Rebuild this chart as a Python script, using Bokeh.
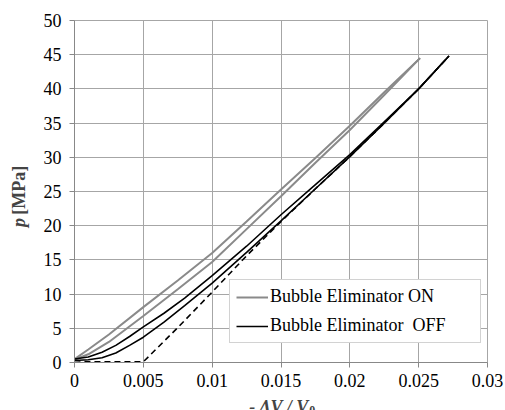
from bokeh.plotting import figure
from bokeh.models import (Range1d, FixedTicker, CustomJSTickFormatter, Legend,
                          LegendItem, Label)
from bokeh.embed import file_html
from bokeh.resources import INLINE
import math

# ---- data ----
x_ticks = [0, 0.005, 0.01, 0.015, 0.02, 0.025, 0.03]
y_ticks = [0, 5, 10, 15, 20, 25, 30, 35, 40, 45, 50]

on_x = [0, 0.001, 0.0025, 0.005, 0.0075, 0.01, 0.0125, 0.015, 0.0175, 0.02, 0.0225, 0.0251]
on_upper_p = [0.5, 1.9, 4.1, 8.1, 12.0, 16.0, 20.6, 25.3, 29.9, 34.6, 39.5, 44.5]
on_lower_p = [0.4, 1.2, 3.0, 6.8, 10.7, 14.7, 19.5, 24.3, 29.2, 34.0, 39.1, 44.5]

off_x = [0, 0.001, 0.002, 0.003, 0.004, 0.005, 0.0065, 0.008, 0.01, 0.0125,
         0.015, 0.0175, 0.02, 0.0225, 0.025, 0.0272]
off_upper_p = [0.5, 0.8, 1.5, 2.5, 3.8, 5.2, 7.2, 9.4, 12.7, 17.0, 21.6, 26.0,
               30.4, 35.2, 40.0, 44.8]
off_lower_p = [0.3, 0.4, 0.7, 1.4, 2.5, 3.7, 5.9, 8.3, 11.6, 16.1, 20.7, 25.4,
               30.1, 35.0, 40.0, 44.8]

ref_x = [0, 0.001, 0.005, 0.0075, 0.01, 0.0125, 0.015, 0.0175, 0.02, 0.0225, 0.025, 0.0272]
ref_p = [0.3, 0.1, 0.1, 5.1, 10.3, 15.6, 20.6, 25.4, 30.1, 35.0, 40.0, 44.8]

legend_labels = ["Bubble Eliminator ON", "Bubble Eliminator  OFF"]

FONT = "'Liberation Serif', 'Times New Roman', serif"
GRID = "#a6a6a6"
AXIS = "#888888"
GRAY = "#8a8a8a"

p = figure(frame_width=413, frame_height=342,
           min_border_left=74, min_border_right=18,
           min_border_top=20, min_border_bottom=48,
           x_range=Range1d(0, 0.03), y_range=Range1d(0, 50),
           output_backend="svg", toolbar_location=None)

p.background_fill_color = "white"
p.border_fill_color = "white"
p.outline_line_color = GRID
p.outline_line_width = 1

for ax in (p.xaxis[0], p.yaxis[0]):
    ax.axis_line_color = AXIS
    ax.major_tick_line_color = AXIS
    ax.major_tick_out = 5
    ax.major_tick_in = 0
    ax.minor_tick_line_color = None
    ax.major_label_text_font = FONT
    ax.major_label_text_font_size = "18px"
    ax.major_label_text_color = "black"

p.xaxis[0].ticker = FixedTicker(ticks=x_ticks)
p.yaxis[0].ticker = FixedTicker(ticks=y_ticks)
p.xaxis[0].formatter = CustomJSTickFormatter(
    code="var s = tick.toFixed(3).replace(/0+$/, '').replace(/\\.$/, ''); return s;")
p.xaxis[0].major_label_standoff = 6
p.yaxis[0].major_label_standoff = 8

p.xgrid.grid_line_color = GRID
p.ygrid.grid_line_color = GRID
p.xgrid.ticker = FixedTicker(ticks=x_ticks)
p.ygrid.ticker = FixedTicker(ticks=y_ticks)

r_on_up = p.line(on_x, on_upper_p, line_color=GRAY, line_width=2)
r_on_lo = p.line(on_x, on_lower_p, line_color=GRAY, line_width=2)
r_off_up = p.line(off_x, off_upper_p, line_color="black", line_width=1.6)
r_off_lo = p.line(off_x, off_lower_p, line_color="black", line_width=1.6)
r_ref = p.line(ref_x, ref_p, line_color="black", line_width=1.6, line_dash="6 4")

legend = Legend(items=[LegendItem(label=legend_labels[0], renderers=[r_on_up]),
                       LegendItem(label=legend_labels[1], renderers=[r_off_up])],
                location=(155, 19))
legend.label_text_font = FONT
legend.label_text_font_size = "18px"
legend.label_text_color = "black"
legend.border_line_color = GRID
legend.border_line_width = 1
legend.background_fill_alpha = 1
legend.padding = 6
legend.spacing = 8
legend.margin = 0
legend.glyph_width = 32
legend.glyph_height = 20
legend.label_height = 20
legend.label_standoff = 2
legend.label_width = 204
p.add_layout(legend, "center")

# y-axis label: "p [MPa]"
p.add_layout(Label(x=-0.00405, y=19.8, text="p", angle=math.pi / 2,
                   text_font=FONT, text_font_size="18px",
                   text_font_style="bold italic", text_align="left",
                   text_baseline="middle"), "left")
p.add_layout(Label(x=-0.00405, y=21.6, text="[MPa]", angle=math.pi / 2,
                   text_font=FONT, text_font_size="18px",
                   text_font_style="bold", text_align="left",
                   text_baseline="middle"), "left")

# x-axis label: "- ΔV / V0"
p.add_layout(Label(x=0.0127, y=-5.1, text="- ΔV / V",
                   text_font=FONT, text_font_size="18px",
                   text_font_style="bold italic", text_align="left",
                   text_baseline="top"), "below")
p.add_layout(Label(x=0.01705, y=-6.3, text="0",
                   text_font=FONT, text_font_size="12px",
                   text_font_style="bold", text_align="left",
                   text_baseline="top"), "below")

open("out.html", "w").write(file_html(p, INLINE))
